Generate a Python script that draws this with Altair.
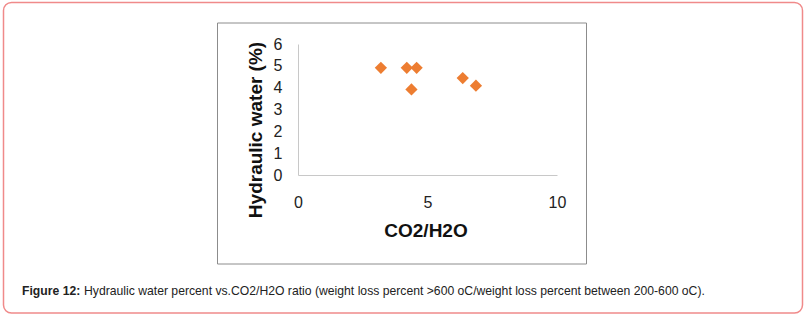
import altair as alt
import pandas as pd

# Data
co2_h2o = [3.2, 4.2, 4.58, 4.38, 6.36, 6.87]
hydraulic_water = [4.91, 4.91, 4.91, 3.92, 4.44, 4.09]

x_ticks = [0, 5, 10]
y_ticks = [0, 1, 2, 3, 4, 5, 6]

caption_bold = "Figure 12:"
caption_text = ("Hydraulic water percent vs.CO2/H2O ratio (weight loss percent >600 oC/"
                "weight loss percent between 200-600 oC).")

df = pd.DataFrame({"x": co2_h2o, "y": hydraulic_water})
one = pd.DataFrame({"a": [0]})

# plot-area placement inside the 810x321 page
L, T, W, H = 298, 44, 259, 131
FONT = "Liberation Sans"

outer = alt.Chart(one).mark_rect(
    fill="white", stroke="#f08a8a", strokeWidth=1.5, cornerRadius=8, clip=False
).encode(
    x=alt.value(3.5 - L), x2=alt.value(802.5 - L),
    y=alt.value(2.5 - T), y2=alt.value(313 - T),
)

inner = alt.Chart(one).mark_rect(
    fill="white", stroke="#8c8c8c", strokeWidth=1, clip=False
).encode(
    x=alt.value(217.5 - L), x2=alt.value(586.5 - L),
    y=alt.value(23 - T), y2=alt.value(264 - T),
)

points = alt.Chart(df).mark_point(
    shape="diamond", filled=True, color="#ed7d31", opacity=1, size=150
).encode(
    x=alt.X("x:Q", scale=alt.Scale(domain=[0, 10], nice=False),
            axis=alt.Axis(values=x_ticks, title="CO2/H2O", grid=False, ticks=False,
                          domainColor="#c8c8c8", labelFont=FONT, labelFontSize=16,
                          labelColor="#222", labelPadding=19, zindex=2,
                          labelFlush=False,
                          titleFont=FONT, titleFontSize=19, titleFontWeight="bold",
                          titleColor="#111", titleX=127.5, titleY=55,
                          titleBaseline="middle")),
    y=alt.Y("y:Q", scale=alt.Scale(domain=[0, 6], nice=False),
            axis=alt.Axis(values=y_ticks, title="Hydraulic water (%)", grid=False,
                          ticks=False, domainColor="#c8c8c8", labelFont=FONT,
                          labelFontSize=16, labelColor="#222", labelPadding=16,
                          zindex=2, labelFlush=False,
                          titleFont=FONT, titleFontSize=19, titleFontWeight="bold",
                          titleColor="#111", titleX=-43, titleY=85.5,
                          titleAngle=-90, titleAlign="center",
                          titleBaseline="middle")),
)

cap1 = alt.Chart(one).mark_text(
    text=caption_bold, font=FONT, fontSize=12.2, fontWeight="bold", color="#222",
    align="left", baseline="middle", clip=False
).encode(x=alt.value(22 - L), y=alt.value(291 - T))

cap2 = alt.Chart(one).mark_text(
    text=caption_text, font=FONT, fontSize=12.2, color="#222",
    align="left", baseline="middle", clip=False
).encode(x=alt.value(84 - L), y=alt.value(291 - T))

chart = alt.layer(outer, inner, points, cap1, cap2).properties(
    width=W, height=H,
    padding={"left": L, "top": T, "right": 810 - L - W, "bottom": 321 - T - H},
    autosize="none", background="white",
).configure_view(stroke=None)

chart.save("out.html", embed_options={"renderer": "svg", "actions": False})
